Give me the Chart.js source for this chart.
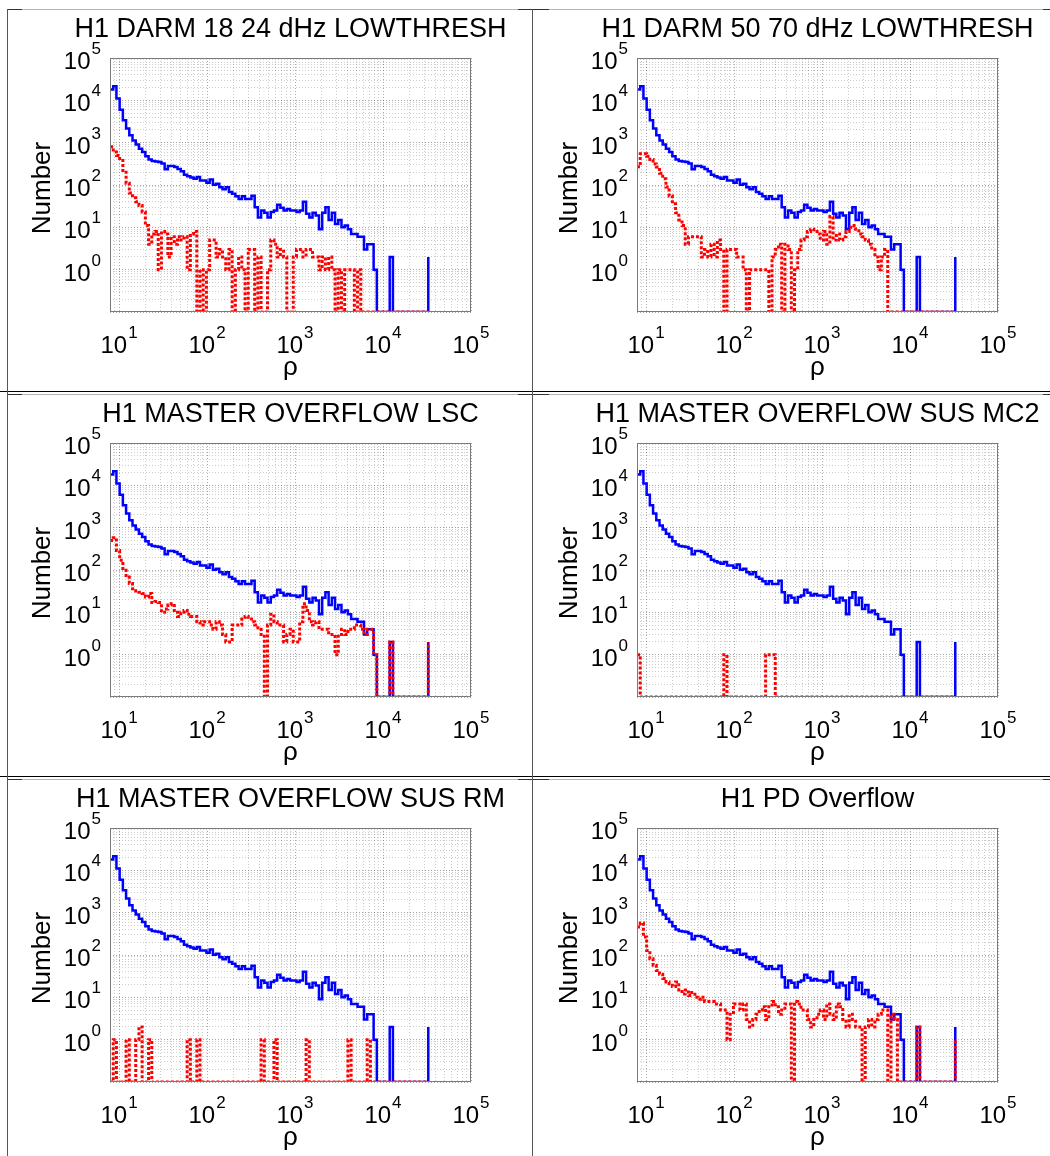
<!DOCTYPE html>
<html>
<head>
<meta charset="utf-8">
<title>H1 veto histograms</title>
<script src="https://cdn.jsdelivr.net/npm/chart.js@4.4.1/dist/chart.umd.min.js"></script>
<style>
  html, body { margin: 0; padding: 0; background: #fff; }
  #page { position: relative; width: 1050px; height: 1156px; overflow: hidden; background: #fff; }
  canvas.panel { position: absolute; }
  .rule { position: absolute; }
</style>
</head>
<body>
<div id="page"></div>
<script>
"use strict";

/* global Chart */

// ===========================
// DATA
// ===========================
// log-spaced rho bins (stairs histogram, 100 bins)
const N_BINS = 100;
const RHO_FIRST = 7.9;
const RHO_LAST = 32700;

// axis limits
const RHO_MIN = 7.9;
const RHO_MAX = 1e5;
const COUNT_MIN = 0.1;
const COUNT_MAX = 1e5;

// labelled decades
const X_LABEL_EXPONENTS = [1, 2, 3, 4, 5];
const Y_LABEL_EXPONENTS = [0, 1, 2, 3, 4, 5];

const PANEL_TITLES = [
    "H1 DARM 18 24 dHz LOWTHRESH",
    "H1 DARM 50 70 dHz LOWTHRESH",
    "H1 MASTER OVERFLOW LSC",
    "H1 MASTER OVERFLOW SUS MC2",
    "H1 MASTER OVERFLOW SUS RM",
    "H1 PD Overflow"
];

// all triggers (blue, same in every panel)
const ALL_COUNTS = [
    18000, 21400, 11000, 6000, 3400, 2150, 1490, 1130, 910, 720,
    600, 475, 400, 370, 360, 350, 320, 235, 280, 280,
    265, 240, 210, 175, 160, 150, 140, 155, 128, 128,
    113, 135, 101, 107, 89, 79, 89, 68, 62, 54,
    47, 54, 47, 47, 56, 30, 17, 25, 22, 17,
    23, 25, 34, 29, 25, 27, 25, 25, 23, 25,
    40, 21, 17, 22, 19, 9, 22, 30, 15, 22,
    12, 15, 10, 11, 9, 7, 7, 6, 6, 3,
    4, 4, 1, 0, 0, 0, 0, 2, 0, 0,
    0, 0, 0, 0, 0, 0, 0, 0, 0, 2
];

// vetoed triggers (red), one per panel
const VETO_DARM_18_24 = [
    800, 600, 500, 420, 220, 110, 65, 50, 40, 33,
    23, 11, 4, 7, 8, 1, 8, 7, 2, 6,
    4, 6, 5, 6, 1, 7, 8, 0, 1, 0,
    1, 5, 5, 2, 3, 2, 1, 3, 0, 1,
    2, 1, 0, 3, 3, 0, 2, 0, 0, 1,
    5, 4, 2, 3, 2, 0, 0, 2, 3, 3,
    2, 3, 3, 2, 2, 1, 2, 1, 2, 1,
    0, 1, 0, 1, 1, 1, 0, 1, 0, 0,
    0, 0, 0, 0, 0, 0, 0, 0, 0, 0,
    0, 0, 0, 0, 0, 0, 0, 0, 0, 0
];

const VETO_DARM_50_70 = [
    270, 550, 550, 480, 400, 315, 265, 190, 140, 90,
    55, 36, 22, 15, 11, 4, 6, 6, 6, 6,
    2, 3, 2, 4, 2, 5, 3, 0, 3, 3,
    3, 2, 2, 1, 0, 1, 1, 1, 1, 1,
    1, 0, 2, 3, 4, 0, 4, 3, 0, 1,
    3, 5, 6, 8, 9, 8, 7, 5, 8, 4,
    18, 5, 7, 5, 6, 8, 10, 11, 9, 7,
    6, 5, 4, 3, 2, 1, 2, 3, 0, 0,
    0, 0, 0, 0, 0, 0, 0, 0, 0, 0,
    0, 0, 0, 0, 0, 0, 0, 0, 0, 0
];

const VETO_OVERFLOW_LSC = [
    500, 580, 290, 170, 98, 68, 48, 36, 32, 30,
    28, 23, 28, 17, 18, 17, 10, 12, 15, 16,
    10, 8, 10, 11, 9, 8, 8, 6, 5, 6,
    6, 5, 4, 6, 5, 3, 2, 2, 5, 5,
    5, 7, 8, 7, 6, 5, 4, 3, 0, 5,
    9, 6, 5, 5, 2, 3, 4, 2, 2, 6,
    16, 11, 6, 5, 6, 4, 4, 4, 3, 3,
    1, 3, 4, 3, 4, 4, 5, 5, 4, 3,
    4, 4, 1, 0, 0, 0, 0, 2, 0, 0,
    0, 0, 0, 0, 0, 0, 0, 0, 0, 2
];

const VETO_OVERFLOW_SUS_MC2 = [
    1, 0, 0, 0, 0, 0, 0, 0, 0, 0,
    0, 0, 0, 0, 0, 0, 0, 0, 0, 0,
    0, 0, 0, 0, 0, 0, 0, 1, 0, 0,
    0, 0, 0, 0, 0, 0, 0, 0, 0, 0,
    1, 1, 1, 0, 0, 0, 0, 0, 0, 0,
    0, 0, 0, 0, 0, 0, 0, 0, 0, 0,
    0, 0, 0, 0, 0, 0, 0, 0, 0, 0,
    0, 0, 0, 0, 0, 0, 0, 0, 0, 0,
    0, 0, 0, 0, 0, 0, 0, 0, 0, 0,
    0, 0, 0, 0, 0, 0, 0, 0, 0, 0
];

const VETO_OVERFLOW_SUS_RM = [
    0, 1, 0, 0, 0, 1, 0, 0, 1, 2,
    0, 0, 1, 0, 0, 0, 0, 0, 0, 0,
    0, 0, 0, 0, 1, 0, 0, 1, 0, 0,
    0, 0, 0, 0, 0, 0, 0, 0, 0, 0,
    0, 0, 0, 0, 0, 0, 0, 1, 0, 0,
    0, 1, 0, 0, 0, 0, 0, 0, 0, 0,
    0, 1, 0, 0, 0, 0, 0, 0, 0, 0,
    0, 0, 0, 0, 1, 0, 0, 0, 0, 0,
    1, 0, 0, 0, 0, 0, 0, 0, 0, 0,
    0, 0, 0, 0, 0, 0, 0, 0, 0, 0
];

const VETO_PD_OVERFLOW = [
    460, 570, 265, 128, 82, 57, 43, 35, 28, 23,
    21, 18, 23, 15, 12, 15, 11, 13, 10, 9,
    10, 8, 8, 8, 7, 7, 5, 5, 1, 4,
    7, 7, 5, 7, 3, 2, 3, 4, 5, 6,
    3, 6, 8, 6, 4, 5, 7, 7, 0, 8,
    7, 5, 5, 3, 2, 3, 4, 5, 3, 7,
    4, 3, 7, 6, 3, 2, 4, 3, 2, 2,
    0, 2, 3, 2, 3, 4, 5, 5, 0, 4,
    3, 0, 0, 0, 0, 0, 0, 2, 0, 0,
    0, 0, 0, 0, 0, 0, 0, 0, 0, 1
];

const PANEL_VETOES = [
    VETO_DARM_18_24, VETO_DARM_50_70,
    VETO_OVERFLOW_LSC, VETO_OVERFLOW_SUS_MC2,
    VETO_OVERFLOW_SUS_RM, VETO_PD_OVERFLOW
];

// ===========================
// LAYOUT / STYLE
// ===========================
const FONT = '"Liberation Sans", Arial, Helvetica, sans-serif';
const CANVAS_W = 523;
const CANVAS_H = 385;
const COL_STEP = 527;
const ROW_STEP = 385;
const PLOT_PADDING = { left: 110, top: 58, right: 52, bottom: 73 };

const RHO_BINS = Array.from({ length: N_BINS }, (_, k) =>
    RHO_FIRST * Math.pow(RHO_LAST / RHO_FIRST, k / (N_BINS - 1)));

// empty bins sit on the bottom edge of the log axis
function toPoints(counts) {
    return counts.map((c, k) => ({ x: RHO_BINS[k], y: c > 0 ? c : COUNT_MIN }));
}

function logTicks(lo, hi) {
    const ticks = [];
    for (let e = Math.floor(Math.log10(lo)); e <= Math.ceil(Math.log10(hi)); e++) {
        for (let m = 1; m <= 9; m++) {
            const v = m * Math.pow(10, e);
            if (v >= lo * 0.999 && v <= hi * 1.001) ticks.push({ value: v, major: m === 1 });
        }
    }
    return ticks;
}

function logAxis(lo, hi) {
    return {
        type: "logarithmic",
        min: lo,
        max: hi,
        afterBuildTicks: scale => { scale.ticks = logTicks(lo, hi); },
        ticks: { display: false },
        grid: {
            drawTicks: false,
            lineWidth: 1,
            color: ctx => (ctx.tick && ctx.tick.major ? "rgba(0,0,0,0.34)" : "rgba(0,0,0,0.2)")
        },
        border: { display: false, dash: [1, 2] }
    };
}

// "10" with a raised exponent
function drawPower(ctx, exp, x, baseline, align) {
    ctx.font = `24px ${FONT}`;
    const baseW = ctx.measureText("10").width;
    ctx.font = `17px ${FONT}`;
    const expW = ctx.measureText(String(exp)).width;
    const total = baseW + 1 + expW;
    const left = align === "right" ? x - total : x - total / 2;
    ctx.textAlign = "left";
    ctx.font = `24px ${FONT}`;
    ctx.fillText("10", left, baseline);
    ctx.font = `17px ${FONT}`;
    ctx.fillText(String(exp), left + baseW + 1, baseline - 15);
}

const panelDecor = {
    id: "panelDecor",
    afterDraw(chart, args, opts) {
        const { ctx, chartArea: area, scales } = chart;
        const midX = (area.left + area.right) / 2;
        ctx.save();

        // axes box
        ctx.strokeStyle = "#7a7a7a";
        ctx.lineWidth = 1;
        ctx.strokeRect(Math.round(area.left) + 0.5, Math.round(area.top) + 0.5,
            Math.round(area.right - area.left) - 1, Math.round(area.bottom - area.top) - 1);

        ctx.fillStyle = "#000";
        ctx.textBaseline = "alphabetic";

        // title
        ctx.textAlign = "center";
        ctx.font = `27px ${FONT}`;
        ctx.fillText(opts.title, midX, area.top - 21);

        // tick labels
        Y_LABEL_EXPONENTS.forEach(exp => {
            const py = scales.y.getPixelForValue(Math.pow(10, exp));
            drawPower(ctx, exp, area.left - 9, py + 11, "right");
        });
        X_LABEL_EXPONENTS.forEach(exp => {
            const px = scales.x.getPixelForValue(Math.pow(10, exp));
            drawPower(ctx, exp, px, area.bottom + 41, "center");
        });

        // axis labels
        ctx.textAlign = "center";
        ctx.font = `26px ${FONT}`;
        ctx.fillText("\u03C1", midX, area.bottom + 63);

        ctx.translate(area.left - 60, (area.top + area.bottom) / 2 + 3);
        ctx.rotate(-Math.PI / 2);
        ctx.fillText("Number", 0, 0);

        ctx.restore();
    }
};

// ===========================
// PAGE
// ===========================
const page = document.getElementById("page");

function rule(left, top, width, height, color) {
    const el = document.createElement("div");
    el.className = "rule";
    el.style.left = `${left}px`;
    el.style.top = `${top}px`;
    el.style.width = `${width}px`;
    el.style.height = `${height}px`;
    el.style.background = color;
    page.appendChild(el);
}

// panel frames
[9, 394, 779].forEach(top => {
    rule(7, top, 1043, 1, "#b4b4b4");
    rule(7, top, 15, 1, "#333");
    rule(518, top, 31, 1, "#333");
    rule(1043, top, 7, 1, "#333");
});
[391, 776].forEach(top => rule(0, top, 1050, 1, "#000"));
rule(7, 9, 1, 1147, "#555");
rule(532, 9, 1, 1147, "#555");

PANEL_TITLES.forEach((title, i) => {
    const canvas = document.createElement("canvas");
    canvas.className = "panel";
    canvas.width = CANVAS_W;
    canvas.height = CANVAS_H;
    canvas.style.left = `${(i % 2) * COL_STEP}px`;
    canvas.style.top = `${Math.floor(i / 2) * ROW_STEP}px`;
    page.appendChild(canvas);

    new Chart(canvas.getContext("2d"), {
        type: "line",
        data: {
            datasets: [
                {
                    label: "vetoed",
                    data: toPoints(PANEL_VETOES[i]),
                    borderColor: "#ff0000",
                    borderWidth: 3,
                    borderDash: [3, 2],
                    stepped: "before",
                    pointRadius: 0,
                    fill: false,
                    order: 0
                },
                {
                    label: "all",
                    data: toPoints(ALL_COUNTS),
                    borderColor: "#0000ff",
                    borderWidth: 2.5,
                    stepped: "before",
                    pointRadius: 0,
                    fill: false,
                    order: 1
                }
            ]
        },
        options: {
            responsive: false,
            animation: false,
            devicePixelRatio: 1,
            events: [],
            layout: { padding: PLOT_PADDING },
            scales: {
                x: logAxis(RHO_MIN, RHO_MAX),
                y: logAxis(COUNT_MIN, COUNT_MAX)
            },
            plugins: {
                legend: { display: false },
                tooltip: { enabled: false },
                panelDecor: { title }
            }
        },
        plugins: [panelDecor]
    });
});
</script>
</body>
</html>
